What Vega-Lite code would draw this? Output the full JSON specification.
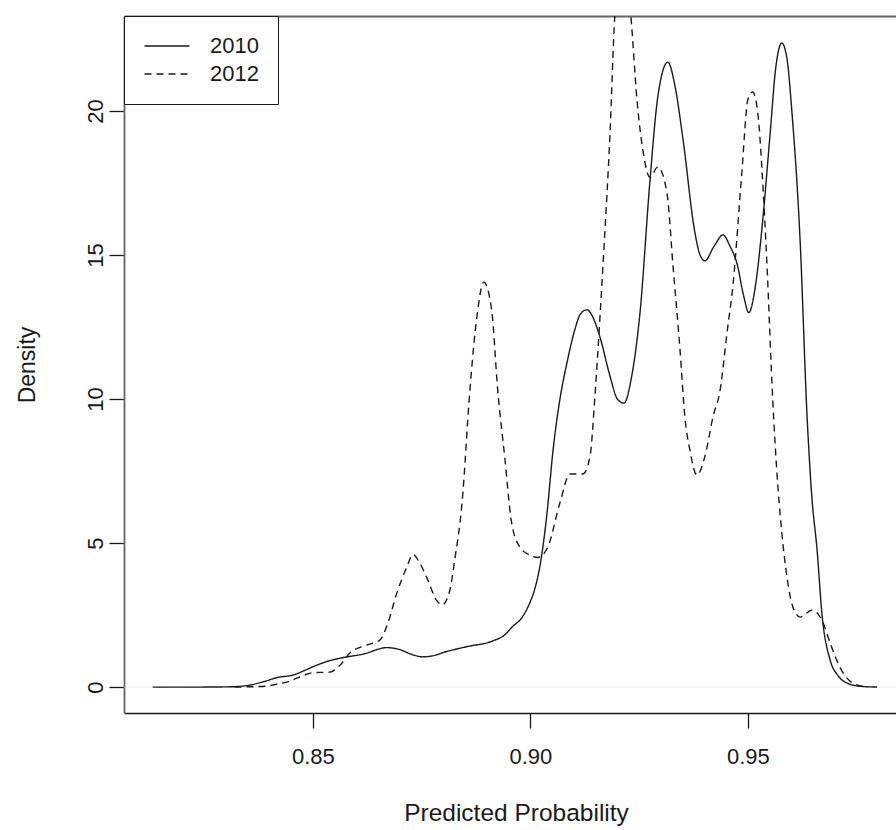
{
  "$schema": "https://vega.github.io/schema/vega-lite/v6.json",
  "width": 772,
  "height": 697,
  "autosize": "none",
  "padding": {"left": 124, "top": 16, "right": 0, "bottom": 117},
  "background": "white",
  "config": {
    "font": "Liberation Sans",
    "view": {"stroke": null},
    "axis": {"grid": false, "labelFont": "Liberation Sans", "titleFont": "Liberation Sans", "titleFontWeight": "normal"}
  },
  "data": {
    "values": [
      {"x": 0.8132, "density": 0, "year": "2010"},
      {"x": 0.8240, "density": 0, "year": "2010"},
      {"x": 0.8310, "density": 0.01, "year": "2010"},
      {"x": 0.8356, "density": 0.07, "year": "2010"},
      {"x": 0.8390, "density": 0.2, "year": "2010"},
      {"x": 0.8418, "density": 0.33, "year": "2010"},
      {"x": 0.8455, "density": 0.42, "year": "2010"},
      {"x": 0.8480, "density": 0.57, "year": "2010"},
      {"x": 0.8509, "density": 0.76, "year": "2010"},
      {"x": 0.8535, "density": 0.9, "year": "2010"},
      {"x": 0.8562, "density": 1.0, "year": "2010"},
      {"x": 0.8617, "density": 1.15, "year": "2010"},
      {"x": 0.8670, "density": 1.37, "year": "2010"},
      {"x": 0.8700, "density": 1.3, "year": "2010"},
      {"x": 0.8730, "density": 1.12, "year": "2010"},
      {"x": 0.8752, "density": 1.05, "year": "2010"},
      {"x": 0.8780, "density": 1.1, "year": "2010"},
      {"x": 0.8800, "density": 1.2, "year": "2010"},
      {"x": 0.8853, "density": 1.4, "year": "2010"},
      {"x": 0.8913, "density": 1.6, "year": "2010"},
      {"x": 0.8940, "density": 1.8, "year": "2010"},
      {"x": 0.8959, "density": 2.1, "year": "2010"},
      {"x": 0.8980, "density": 2.4, "year": "2010"},
      {"x": 0.8998, "density": 2.9, "year": "2010"},
      {"x": 0.9010, "density": 3.4, "year": "2010"},
      {"x": 0.9022, "density": 4.2, "year": "2010"},
      {"x": 0.9038, "density": 6.0, "year": "2010"},
      {"x": 0.9052, "density": 8.2, "year": "2010"},
      {"x": 0.9068, "density": 10.0, "year": "2010"},
      {"x": 0.9084, "density": 11.25, "year": "2010"},
      {"x": 0.9102, "density": 12.4, "year": "2010"},
      {"x": 0.9115, "density": 12.95, "year": "2010"},
      {"x": 0.9130, "density": 13.1, "year": "2010"},
      {"x": 0.9145, "density": 12.8, "year": "2010"},
      {"x": 0.9160, "density": 12.15, "year": "2010"},
      {"x": 0.9183, "density": 10.8, "year": "2010"},
      {"x": 0.9200, "density": 10.0, "year": "2010"},
      {"x": 0.9215, "density": 9.86, "year": "2010"},
      {"x": 0.9233, "density": 10.8, "year": "2010"},
      {"x": 0.9252, "density": 13.0, "year": "2010"},
      {"x": 0.9275, "density": 17.6, "year": "2010"},
      {"x": 0.9293, "density": 20.5, "year": "2010"},
      {"x": 0.9316, "density": 21.7, "year": "2010"},
      {"x": 0.9332, "density": 20.9, "year": "2010"},
      {"x": 0.9351, "density": 19.0, "year": "2010"},
      {"x": 0.9378, "density": 15.8, "year": "2010"},
      {"x": 0.9390, "density": 15.0, "year": "2010"},
      {"x": 0.9401, "density": 14.8, "year": "2010"},
      {"x": 0.9422, "density": 15.3, "year": "2010"},
      {"x": 0.9443, "density": 15.7, "year": "2010"},
      {"x": 0.9459, "density": 15.3, "year": "2010"},
      {"x": 0.9475, "density": 14.7, "year": "2010"},
      {"x": 0.9490, "density": 13.6, "year": "2010"},
      {"x": 0.9502, "density": 13.0, "year": "2010"},
      {"x": 0.9518, "density": 14.0, "year": "2010"},
      {"x": 0.9534, "density": 16.2, "year": "2010"},
      {"x": 0.9551, "density": 19.2, "year": "2010"},
      {"x": 0.9564, "density": 21.5, "year": "2010"},
      {"x": 0.9578, "density": 22.36, "year": "2010"},
      {"x": 0.9590, "density": 21.8, "year": "2010"},
      {"x": 0.9601, "density": 20.0, "year": "2010"},
      {"x": 0.9620, "density": 15.5, "year": "2010"},
      {"x": 0.9636, "density": 9.4, "year": "2010"},
      {"x": 0.9647, "density": 6.6, "year": "2010"},
      {"x": 0.9659, "density": 4.76, "year": "2010"},
      {"x": 0.9670, "density": 2.57, "year": "2010"},
      {"x": 0.9689, "density": 0.94, "year": "2010"},
      {"x": 0.9707, "density": 0.4, "year": "2010"},
      {"x": 0.9728, "density": 0.14, "year": "2010"},
      {"x": 0.9757, "density": 0.03, "year": "2010"},
      {"x": 0.9797, "density": 0, "year": "2010"},

      {"x": 0.8320, "density": 0, "year": "2012"},
      {"x": 0.8355, "density": 0.01, "year": "2012"},
      {"x": 0.8390, "density": 0.03, "year": "2012"},
      {"x": 0.8417, "density": 0.1, "year": "2012"},
      {"x": 0.8440, "density": 0.17, "year": "2012"},
      {"x": 0.8470, "density": 0.35, "year": "2012"},
      {"x": 0.8500, "density": 0.5, "year": "2012"},
      {"x": 0.8539, "density": 0.52, "year": "2012"},
      {"x": 0.8562, "density": 0.75, "year": "2012"},
      {"x": 0.8585, "density": 1.18, "year": "2012"},
      {"x": 0.8624, "density": 1.46, "year": "2012"},
      {"x": 0.8654, "density": 1.63, "year": "2012"},
      {"x": 0.8672, "density": 2.2, "year": "2012"},
      {"x": 0.8693, "density": 3.26, "year": "2012"},
      {"x": 0.8716, "density": 4.17, "year": "2012"},
      {"x": 0.8730, "density": 4.6, "year": "2012"},
      {"x": 0.8746, "density": 4.3, "year": "2012"},
      {"x": 0.8762, "density": 3.8, "year": "2012"},
      {"x": 0.8785, "density": 3.0, "year": "2012"},
      {"x": 0.8797, "density": 2.85, "year": "2012"},
      {"x": 0.8815, "density": 3.37, "year": "2012"},
      {"x": 0.8826, "density": 4.4, "year": "2012"},
      {"x": 0.8843, "density": 6.4, "year": "2012"},
      {"x": 0.8861, "density": 10.3, "year": "2012"},
      {"x": 0.8877, "density": 12.85, "year": "2012"},
      {"x": 0.8893, "density": 14.06, "year": "2012"},
      {"x": 0.8911, "density": 13.1, "year": "2012"},
      {"x": 0.8925, "density": 10.3, "year": "2012"},
      {"x": 0.8941, "density": 8.0, "year": "2012"},
      {"x": 0.8957, "density": 5.7, "year": "2012"},
      {"x": 0.8976, "density": 4.86, "year": "2012"},
      {"x": 0.8999, "density": 4.58, "year": "2012"},
      {"x": 0.9017, "density": 4.5, "year": "2012"},
      {"x": 0.9040, "density": 4.86, "year": "2012"},
      {"x": 0.9068, "density": 6.4, "year": "2012"},
      {"x": 0.9091, "density": 7.4, "year": "2012"},
      {"x": 0.9121, "density": 7.4, "year": "2012"},
      {"x": 0.9137, "density": 8.0, "year": "2012"},
      {"x": 0.9148, "density": 10.0, "year": "2012"},
      {"x": 0.9160, "density": 12.85, "year": "2012"},
      {"x": 0.9169, "density": 15.2, "year": "2012"},
      {"x": 0.9183, "density": 19.2, "year": "2012"},
      {"x": 0.9194, "density": 23.3, "year": "2012"},
      {"x": 0.9203, "density": 24.6, "year": "2012"},
      {"x": 0.9213, "density": 25.0, "year": "2012"},
      {"x": 0.9222, "density": 24.6, "year": "2012"},
      {"x": 0.9231, "density": 23.3, "year": "2012"},
      {"x": 0.9245, "density": 20.4, "year": "2012"},
      {"x": 0.9259, "density": 18.6, "year": "2012"},
      {"x": 0.9275, "density": 17.7, "year": "2012"},
      {"x": 0.9293, "density": 18.06, "year": "2012"},
      {"x": 0.9314, "density": 17.15, "year": "2012"},
      {"x": 0.9328, "density": 14.6, "year": "2012"},
      {"x": 0.9344, "density": 11.7, "year": "2012"},
      {"x": 0.9355, "density": 9.4, "year": "2012"},
      {"x": 0.9367, "density": 8.2, "year": "2012"},
      {"x": 0.9383, "density": 7.36, "year": "2012"},
      {"x": 0.9401, "density": 8.0, "year": "2012"},
      {"x": 0.9420, "density": 9.4, "year": "2012"},
      {"x": 0.9436, "density": 10.3, "year": "2012"},
      {"x": 0.9452, "density": 12.3, "year": "2012"},
      {"x": 0.9466, "density": 14.0, "year": "2012"},
      {"x": 0.9486, "density": 17.85, "year": "2012"},
      {"x": 0.9500, "density": 20.4, "year": "2012"},
      {"x": 0.9511, "density": 20.66, "year": "2012"},
      {"x": 0.9523, "density": 19.9, "year": "2012"},
      {"x": 0.9532, "density": 18.06, "year": "2012"},
      {"x": 0.9544, "density": 14.6, "year": "2012"},
      {"x": 0.9557, "density": 10.0, "year": "2012"},
      {"x": 0.9566, "density": 7.6, "year": "2012"},
      {"x": 0.9578, "density": 5.35, "year": "2012"},
      {"x": 0.9590, "density": 3.8, "year": "2012"},
      {"x": 0.9603, "density": 2.8, "year": "2012"},
      {"x": 0.9620, "density": 2.43, "year": "2012"},
      {"x": 0.9647, "density": 2.67, "year": "2012"},
      {"x": 0.9670, "density": 2.33, "year": "2012"},
      {"x": 0.9689, "density": 1.53, "year": "2012"},
      {"x": 0.9711, "density": 0.7, "year": "2012"},
      {"x": 0.9741, "density": 0.14, "year": "2012"},
      {"x": 0.9774, "density": 0, "year": "2012"}
    ]
  },
  "layer": [
    {
      "data": {"values": [{}]},
      "mark": {"type": "rule", "color": "#d8d8d8", "strokeWidth": 0.6},
      "encoding": {"y": {"datum": 0, "type": "quantitative"}}
    },
    {
      "mark": {"type": "line", "clip": true, "interpolate": "monotone", "color": "#1a1a1a", "strokeWidth": 1.4},
      "encoding": {
        "x": {
          "field": "x", "type": "quantitative",
          "scale": {"domain": [0.8066, 0.98404], "nice": false, "zero": false},
          "axis": {
            "orient": "bottom",
            "values": [0.85, 0.9, 0.95], "format": ".2f",
            "tickSize": 15, "tickWidth": 1.3, "tickColor": "#1a1a1a",
            "domainColor": "#1a1a1a", "domainWidth": 1.3,
            "labelFontSize": 22, "labelPadding": 18, "labelColor": "#1a1a1a", "labelBaseline": "top",
            "title": "Predicted Probability", "titleFontSize": 24.5, "titleColor": "#1a1a1a",
            "titleX": 392, "titleAlign": "center", "titleY": 100, "titleBaseline": "middle"
          }
        },
        "y": {
          "field": "density", "type": "quantitative",
          "scale": {"domain": [-0.9, 23.3], "nice": false, "zero": false},
          "axis": {
            "values": [0, 5, 10, 15, 20],
            "tickSize": 15, "tickWidth": 1.3, "tickColor": "#1a1a1a",
            "domainColor": "#666666", "domainWidth": 1.8,
            "labelFontSize": 22, "labelAngle": 270, "labelAlign": "center", "labelBaseline": "bottom",
            "labelPadding": 2, "labelColor": "#1a1a1a",
            "title": "Density", "titleFontSize": 23, "titleColor": "#1a1a1a",
            "titleAngle": 270, "titleX": -97, "titleY": 348.5, "titleAlign": "center", "titleBaseline": "middle"
          }
        },
        "strokeDash": {
          "field": "year", "type": "nominal",
          "scale": {"domain": ["2010", "2012"], "range": [[1, 0], [7, 5]]},
          "legend": {
            "orient": "none", "legendX": 0, "legendY": 0, "title": null,
            "symbolType": "M-3,0H3", "symbolSize": 225, "symbolStrokeWidth": 1.4, "symbolStrokeColor": "#1a1a1a",
            "strokeColor": "#1a1a1a", "fillColor": "white", "padding": 19,
            "symbolOffset": 13, "labelOffset": 32, "labelFontSize": 22, "labelColor": "#1a1a1a",
            "labelFont": "Liberation Sans", "rowPadding": 6
          }
        }
      }
    },
    {
      "mark": {"type": "point", "opacity": 0},
      "encoding": {
        "x": {
          "field": "x", "type": "quantitative",
          "scale": {"domain": [0.8066, 0.98404], "nice": false, "zero": false},
          "axis": {"orient": "top", "labels": false, "ticks": false, "title": null, "domainColor": "#666666", "domainWidth": 1.8}
        }
      }
    }
  ],
  "resolve": {"axis": {"x": "independent"}}
}
